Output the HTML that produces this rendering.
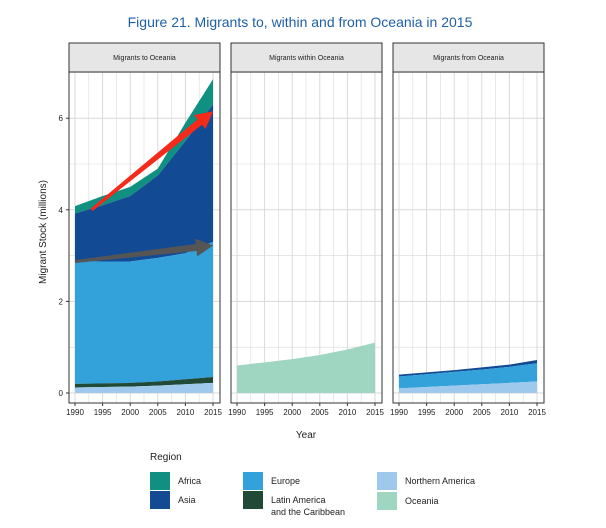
<!DOCTYPE html>
<html><head><meta charset="utf-8"><style>
body{margin:0;background:#fff;font-family:"Liberation Sans",sans-serif}
svg text{font-family:"Liberation Sans",sans-serif}
</style></head><body>
<svg id="c" width="606" height="523">
<text x="300" y="27" text-anchor="middle" font-size="14" fill="#1f5fa8">Figure 21. Migrants to, within and from Oceania in 2015</text>
<text transform="translate(46,232) rotate(-90)" text-anchor="middle" font-size="10" fill="#222">Migrant Stock (millions)</text>
<text x="306" y="438" text-anchor="middle" font-size="10" fill="#222">Year</text>
<g id="legend">
<text x="150" y="460" font-size="10" fill="#222">Region</text>
</g>
</svg>
<script>
const years=[1990,1995,2000,2005,2010,2015];
const panelTitles=["Migrants to Oceania","Migrants within Oceania","Migrants from Oceania"];
const yTicks=[0,2,4,6];
const xTicks=[1990,1995,2000,2005,2010,2015];
// cumulative stacked tops (millions)
const toNAm=[0.12,0.13,0.14,0.16,0.19,0.22];
const toLatAm=[0.20,0.21,0.22,0.25,0.30,0.35];
const toEurope=[2.88,2.87,2.87,2.95,3.05,3.30];
const toAsia=[3.92,4.10,4.30,4.75,5.50,6.30];
const toAfrica=[4.08,4.30,4.50,4.90,5.90,6.85];
const withinOceania=[0.60,0.67,0.74,0.83,0.95,1.10];
const fromNAm=[0.10,0.13,0.16,0.19,0.22,0.25];
const fromEurope=[0.36,0.41,0.46,0.51,0.57,0.65];
const fromAsia=[0.40,0.45,0.50,0.56,0.62,0.72];
const arrowRed=[[1993,4.0],[2015,6.15]];
const arrowGray=[[1990,2.87],[2015,3.22]];
const col={Africa:"#0f9080",Asia:"#134a94",Europe:"#33a2db",LatAm:"#214a36",NAm:"#9ec9ec",Oceania:"#9fd6c2"};
const svg=document.getElementById('c');const NS="http://www.w3.org/2000/svg";
function el(t,a,p){const e=document.createElementNS(NS,t);for(const k in a)e.setAttribute(k,a[k]);(p||svg).appendChild(e);return e;}
const panelX=[69,231,393];const PW=151;const plotTop=72,plotBot=403;
const y=v=>393-v*45.8;
function panel(i){
 const px=panelX[i];const x=yr=>px+6+(yr-1990)*138/25;
 const g=el('g',{});
 
 
 el('rect',{x:px,y:plotTop,width:PW,height:plotBot-plotTop,fill:'#fff'},g);
 for(let yr=1990;yr<=2015;yr+=2.5){el('line',{x1:x(yr),x2:x(yr),y1:plotTop,y2:plotBot,stroke:'#d9d9d9','stroke-width':yr%5==0?1:0.6},g);}
 for(let v=0;v<=7;v++){el('line',{x1:px,x2:px+PW,y1:y(v),y2:y(v),stroke:'#d9d9d9','stroke-width':v%2==0?1:0.6},g);}
 return {g,x};
}
function area(g,x,lo,hi,fill,name){
 let d='M'+years.map((yr,j)=>x(yr)+','+y(hi[j])).join('L');
 for(let j=years.length-1;j>=0;j--)d+='L'+x(years[j])+','+y(lo?lo[j]:0);
 const p=el('path',{d:d+'Z',fill},g);
 
 
}
function frame(i,g,x){
 const px=panelX[i];
 const s=el('rect',{x:px,y:43,width:PW,height:29,fill:'#e6e6e6',stroke:'#333','stroke-width':1},g);
 
 
 const t=el('text',{x:px+PW/2,y:60,'text-anchor':'middle','font-size':7,fill:'#222'},g);t.textContent=panelTitles[i];
 
 
 el('rect',{x:px,y:plotTop,width:PW,height:plotBot-plotTop,fill:'none',stroke:'#333','stroke-width':1},g);
 xTicks.forEach(yr=>{el('line',{x1:x(yr),x2:x(yr),y1:plotBot,y2:plotBot+3,stroke:'#333'},g);
  const tt=el('text',{x:x(yr),y:plotBot+12,'text-anchor':'middle','font-size':8,fill:'#222'},g);tt.textContent=yr;
  
  });
 if(i==0)yTicks.forEach(v=>{el('line',{x1:px-3,x2:px,y1:y(v),y2:y(v),stroke:'#333'},g);
  const tt=el('text',{x:px-6,y:y(v)+3,'text-anchor':'end','font-size':8,fill:'#222'},g);tt.textContent=v;
  
  });
}
function arrow(g,x,pts,color,w,name){
 const [a,b]=pts;const x1=x(a[0]),y1=y(a[1]),x2=x(b[0]),y2=y(b[1]);
 const ang=Math.atan2(y2-y1,x2-x1);const hl=17,hw=9;
 const bx=x2-hl*Math.cos(ang),by=y2-hl*Math.sin(ang);
 const nx=-Math.sin(ang),ny=Math.cos(ang);
 const d=`M${x1+nx*1.5},${y1+ny*1.5}L${bx+nx*w/2},${by+ny*w/2}L${bx+nx*hw},${by+ny*hw}L${x2},${y2}L${bx-nx*hw},${by-ny*hw}L${bx-nx*w/2},${by-ny*w/2}L${x1-nx*1.5},${y1-ny*1.5}Z`;
 const p=el('path',{d,fill:color},g);
 
 
}
let P=panel(0);
area(P.g,P.x,toAsia,toAfrica,col.Africa,'area-africa');
area(P.g,P.x,toEurope,toAsia,col.Asia,'area-asia');
area(P.g,P.x,toLatAm,toEurope,col.Europe,'area-europe');
area(P.g,P.x,toNAm,toLatAm,col.LatAm,'area-latin-america');
area(P.g,P.x,null,toNAm,col.NAm,'area-northern-america');
arrow(P.g,P.x,arrowGray,'#555',7,'trend-arrow-gray');
arrow(P.g,P.x,arrowRed,'#f52a1a',7,'trend-arrow-red');
frame(0,P.g,P.x);
P=panel(1);
area(P.g,P.x,null,withinOceania,col.Oceania,'area-oceania');
frame(1,P.g,P.x);
P=panel(2);
area(P.g,P.x,fromEurope,fromAsia,col.Asia,'area-asia');
area(P.g,P.x,fromNAm,fromEurope,col.Europe,'area-europe');
area(P.g,P.x,null,fromNAm,col.NAm,'area-northern-america');
frame(2,P.g,P.x);
const legendItems=[["Africa",col.Africa,150,472],["Asia",col.Asia,150,491],["Europe",col.Europe,243,472],["Latin America",col.LatAm,243,491],["Northern America",col.NAm,377,472],["Oceania",col.Oceania,377,492]];
const lg=document.getElementById('legend');
legendItems.forEach(([n,c,lx,ly])=>{
 const r=el('rect',{x:lx,y:ly,width:20,height:18,fill:c},lg);
 
 
 const t=el('text',{x:lx+28,y:ly+12,'font-size':9,fill:'#222'},lg);t.textContent=n;
 
 
 if(n=="Latin America"){const t2=el('text',{x:lx+28,y:ly+24,'font-size':9,fill:'#222'},lg);t2.textContent="and the Caribbean";
 
 }
});
</script>
</body></html>
